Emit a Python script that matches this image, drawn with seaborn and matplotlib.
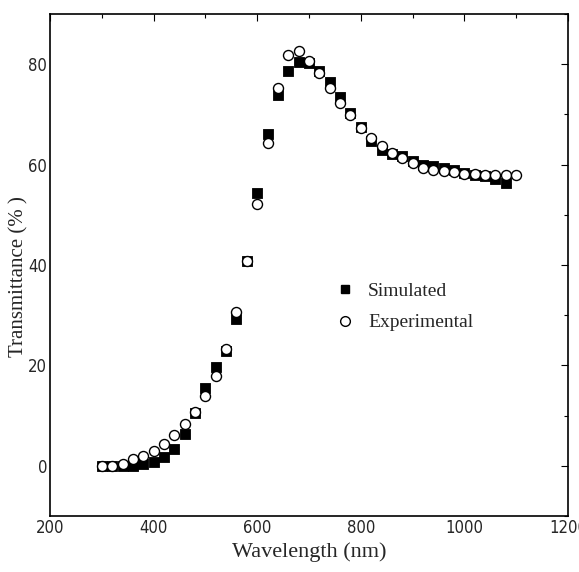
import numpy as np
import pandas as pd
import matplotlib
matplotlib.use("Agg")
import matplotlib.pyplot as plt
import seaborn as sns
from matplotlib.ticker import MultipleLocator
from matplotlib.lines import Line2D

wl_sim = [300, 320, 340, 360, 380, 400, 420, 440, 460, 480, 500, 520, 540, 560, 580,
          600, 620, 640, 660, 680, 700, 720, 740, 760, 780, 800, 820, 840, 860, 880,
          900, 920, 940, 960, 980, 1000, 1020, 1040, 1060, 1080]
t_sim = [0.0, 0.0, 0.0, 0.0, 0.3, 0.7, 1.7, 3.4, 6.3, 10.6, 15.4, 19.6, 22.9, 29.2, 40.8,
         54.3, 66.1, 73.8, 78.7, 80.5, 80.3, 78.7, 76.4, 73.5, 70.3, 67.5, 64.7, 63.0, 62.2, 61.7,
         60.8, 60.0, 59.7, 59.4, 58.9, 58.4, 58.0, 57.8, 57.1, 56.4]

wl_exp = [300, 320, 340, 360, 380, 400, 420, 440, 460, 480, 500, 520, 540, 560, 580,
          600, 620, 640, 660, 680, 700, 720, 740, 760, 780, 800, 820, 840, 860, 880,
          900, 920, 940, 960, 980, 1000, 1020, 1040, 1060, 1080, 1100]
t_exp = [0.0, 0.0, 0.3, 1.3, 2.0, 3.0, 4.3, 6.2, 8.4, 10.8, 13.9, 17.9, 23.2, 30.6, 40.7,
         52.2, 64.3, 75.2, 81.8, 82.7, 80.7, 78.3, 75.2, 72.3, 69.8, 67.3, 65.3, 63.7, 62.3, 61.4,
         60.4, 59.4, 59.0, 58.7, 58.5, 58.2, 58.2, 58.0, 57.9, 57.9, 57.9]

x_ticks = [200, 400, 600, 800, 1000, 1200]
y_ticks = [0, 20, 40, 60, 80]

sns.set_style("white")
serif_font = ['Liberation Serif', 'DejaVu Serif']

fig = plt.figure(figsize=(5.79, 5.72), dpi=100)
ax = fig.add_axes([50/579, 1 - 516/572, 518/579, 502/572])

sim = pd.DataFrame({"wl": wl_sim, "t": t_sim})
exp = pd.DataFrame({"wl": wl_exp, "t": t_exp})

sns.scatterplot(data=sim, x="wl", y="t", marker="s", s=42, color="black",
                edgecolor="black", linewidth=0.6, ax=ax, zorder=3)
sns.scatterplot(data=exp, x="wl", y="t", marker="o", s=52, facecolor="white",
                edgecolor="black", linewidth=1.0, ax=ax, zorder=4)

ax.set_xlim(200, 1200)
ax.set_ylim(-10, 90)
ax.set_xticks(x_ticks)
ax.set_yticks(y_ticks)
ax.xaxis.set_minor_locator(MultipleLocator(100))
ax.yaxis.set_minor_locator(MultipleLocator(10))
ax.tick_params(which="both", direction="in", top=True, right=True, color="black", width=0.8)
ax.tick_params(which="major", length=5)
ax.tick_params(which="minor", length=3)
ax.tick_params(axis="both", labelsize=12, pad=2)
for lab in ax.get_xticklabels() + ax.get_yticklabels():
    lab.set_family(['DejaVu Sans'])
    lab.set_stretch('condensed')
for sp in ax.spines.values():
    sp.set_color("black")
    sp.set_linewidth(1.2)

ax.set_xlabel("Wavelength (nm)", fontsize=16, family=serif_font, labelpad=4)
ax.set_ylabel("Transmittance (% )", fontsize=15, family=serif_font)
ax.yaxis.set_label_coords(-22/518, 0.476)

handles = [Line2D([], [], marker="s", linestyle="none", markerfacecolor="black",
                  markeredgecolor="black", markersize=6),
           Line2D([], [], marker="o", linestyle="none", markerfacecolor="white",
                  markeredgecolor="black", markersize=7)]
ax.legend(handles, ["Simulated", "Experimental"], loc="upper left",
          bbox_to_anchor=(0.498, 0.5), frameon=False, handletextpad=0.2,
          labelspacing=0.7, prop={"family": serif_font, "size": 14})

fig.savefig("out.png", dpi=100)
